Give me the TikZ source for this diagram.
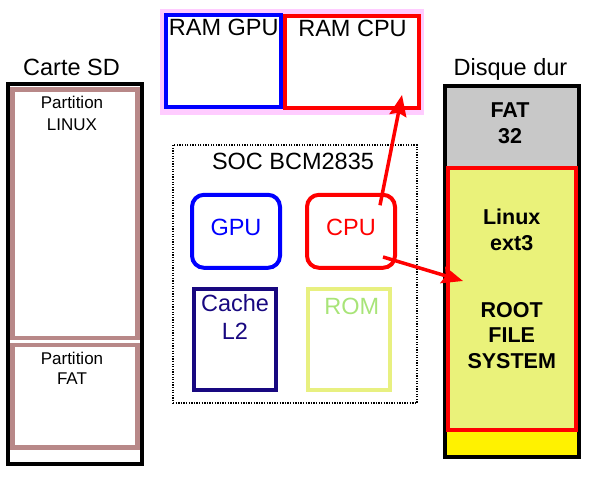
\documentclass[tikz,border=0pt]{standalone}
\usepackage{fontspec}
\setmainfont{Liberation Sans}
\usetikzlibrary{arrows.meta,calc}

\definecolor{sdrose}{RGB}{184,136,136}
\definecolor{rampink}{RGB}{255,204,255}
\definecolor{cachenavy}{RGB}{24,8,128}
\definecolor{romline}{RGB}{232,240,128}
\definecolor{romtext}{RGB}{168,228,120}
\definecolor{extfill}{RGB}{234,242,122}
\definecolor{fatgray}{RGB}{200,200,200}

\newcommand\bigtxt{\fontsize{23.5pt}{28pt}\selectfont}
\newcommand\parttxt{\fontsize{17pt}{22pt}\selectfont}
\newcommand\disktxt{\fontsize{21.5pt}{26pt}\selectfont\bfseries}

\tikzset{
    boxline/.style = {draw, line width=4pt, inner sep=0pt},
    chip/.style = {boxline, rounded corners=12pt, font=\bigtxt, text depth=8pt},
    lbl/.style = {inner sep=0pt, text depth=0pt, align=center},
    ptr/.style = {draw=red, line width=3.5pt, -{Stealth[length=21pt,width=17pt,inset=3pt]}},
}

\begin{document}
\begin{tikzpicture}[x=1pt,y=-1pt]
\useasboundingbox (0,0) rectangle (589,478);

% carte SD
\node[lbl, font=\bigtxt] (sdtitle) at (71.5,67.5) {Carte SD};
\node[boxline, minimum width=134pt, minimum height=380pt] (sd) at (75,274) {};
\node[boxline, draw=sdrose, line width=4.5pt, minimum width=125pt, minimum height=248.5pt] (sdlinux) at (75,213.75) {};
\node[boxline, draw=sdrose, line width=4.5pt, minimum width=125pt, minimum height=102.5pt] (sdfat) at (75,396.25) {};
\node[lbl, font=\parttxt] (sdlinuxtxt) at (72,113) {Partition\\LINUX};
\node[lbl, font=\fontsize{17pt}{20pt}\selectfont] (sdfattxt) at (72,368.5) {Partition\\FAT};

% RAM
\node[fill=rampink, inner sep=0pt, minimum width=264pt, minimum height=106pt] (ram) at (292,62) {};
\node[boxline, draw=blue, fill=white, minimum width=115pt, minimum height=92pt] (ramgpu) at (223.5,61) {};
\node[boxline, draw=red, fill=white, minimum width=134pt, minimum height=92pt] (ramcpu) at (352,62) {};
\node[lbl, font=\bigtxt] (ramgputxt) at (223.8,27) {RAM GPU};
\node[lbl, font=\bigtxt] (ramcputxt) at (352.5,28) {RAM CPU};

% SOC
\node[draw, line width=1.3pt, dash pattern=on 1.3pt off 1.3pt, inner sep=0pt,
      minimum width=244pt, minimum height=258pt] (soc) at (295,274) {};
\node[lbl, font=\bigtxt] (soctxt) at (293,161) {SOC BCM2835};
\node[chip, draw=blue, text=blue, minimum width=88pt, minimum height=73pt] (gpu) at (236,231.3) {GPU};
\node[chip, draw=red, text=red, minimum width=88pt, minimum height=73pt] (cpu) at (351,231.3) {CPU};
\node[boxline, draw=cachenavy, minimum width=82.6pt, minimum height=101.6pt] (cache) at (235,339.5) {};
\node[boxline, draw=romline, minimum width=82.6pt, minimum height=101.6pt] (rom) at (349,339.5) {};
\node[lbl, font=\bigtxt, text=cachenavy] (cachetxt) at (235,317) {Cache\\L2};
\node[lbl, font=\bigtxt, text=romtext] (romtxt) at (351.7,306) {ROM};

% disque dur
\node[lbl, font=\bigtxt] (disktitle) at (510.5,67) {Disque dur};
\fill[fatgray] (447,88) rectangle (577,168);
\fill[yellow] (447,430) rectangle (577,455);
\node[boxline, minimum width=134pt, minimum height=371pt] (disk) at (512,271.5) {};
\node[boxline, draw=red, fill=extfill, minimum width=128pt, minimum height=262pt] (ext) at (512,299) {};
\node[lbl, font=\disktxt] (fattxt) at (510,123) {FAT\\32};
\node[lbl, font=\disktxt] (exttxt) at (511.7,230) {Linux\\ext3};
\node[lbl, font=\fontsize{21.5pt}{25.5pt}\selectfont\bfseries] (roottxt) at (511.7,335) {ROOT\\FILE\\SYSTEM};

% fleches
\coordinate (cpuup) at ($(cpu.center)+(29,-26)$);
\coordinate (cpudown) at ($(cpu.center)+(32,25.7)$);
\coordinate (ramhit) at ($(ramcpu.center)+(50,33)$);
\coordinate (roothit) at ($(ext.center)+(-49,-18)$);
\draw[ptr] (cpuup) -- (ramhit);
\draw[ptr] (cpudown) -- (roothit);
\end{tikzpicture}
\end{document}
